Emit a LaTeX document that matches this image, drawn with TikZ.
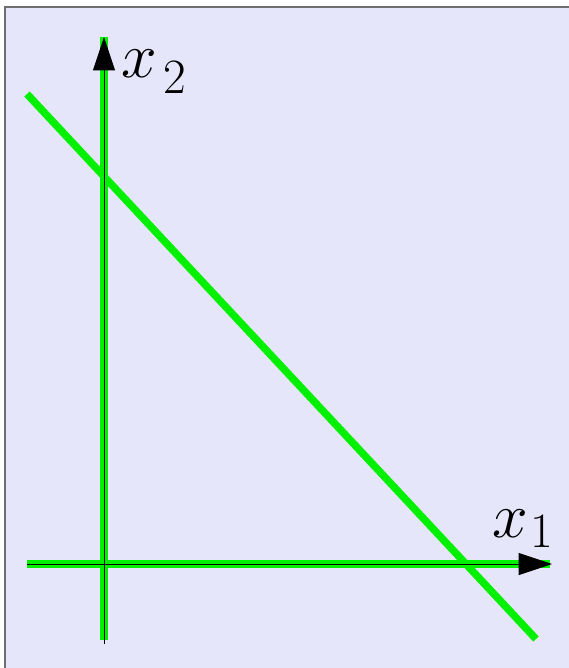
\RequirePackage{fix-cm}
\documentclass[tikz,border=0pt]{standalone}
\usepackage{amsmath}
\usepackage{xcolor}
\usepackage{tikz}
\usetikzlibrary{arrows.meta}
\definecolor{Bg}{HTML}{E6E6FA}
\definecolor{Frame}{HTML}{6E6E6E}
\definecolor{Line}{HTML}{00F000}

% x with a lowered digit: #1 digit, #2 gap, #3 drop
\newcommand{\axislbl}[3]{$x$\hspace{#2}\raisebox{-#3}{\fontsize{37}{40}\selectfont #1}}

\tikzset{
  greenline/.style={
    Line,
    line width=5.6pt,
    line cap=butt
  },
  axisline/.style={
    black,
    line width=.6pt,
    -{Triangle[length=25pt,width=16.5pt]}
  },
  axislabel/.style={
    inner sep=0pt,
    anchor=base west,
    font=\fontsize{48}{56}\selectfont
  }
}

\begin{document}
\begin{tikzpicture}[
  x=.75pt,
  y=-.75pt
]

\useasboundingbox (0,0) rectangle (568,668);

% background frame
\fill[Bg] (5,7) rectangle (575,675);
\draw[
  Frame,
  line width=1.4pt
] (5,675) -- (5,7) -- (575,7);

\coordinate (xs) at (27,564);
\coordinate (xe) at (552,564);
\coordinate (ys) at (104,644);
\coordinate (ye) at (104,37);
\coordinate (ls) at (27,94);
\coordinate (le) at (536,639);

% green lines
\draw[greenline] (xs) -- (550,564);
\draw[greenline] (104,640) -- (ye);
\draw[greenline] (ls) -- (le);

% axes
\draw[axisline] (xs) -- (xe);
\draw[axisline] (ys) -- (ye);

\node[axislabel] (lx1) at (492,537) {\axislbl{1}{2pt}{7.5pt}};
\node[axislabel] (lx2) at (121,77) {\axislbl{2}{5pt}{12.5pt}};

\end{tikzpicture}
\end{document}
